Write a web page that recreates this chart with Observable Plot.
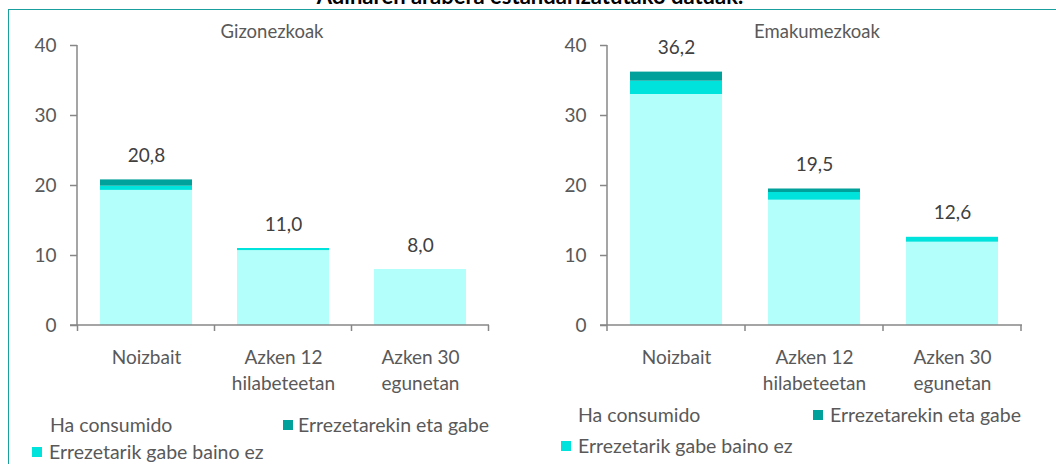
<!DOCTYPE html>
<html><head><meta charset="utf-8">
<script src="https://cdn.jsdelivr.net/npm/d3@7"></script>
<script src="https://cdn.jsdelivr.net/npm/@observablehq/plot@0.6"></script>
<style>
body{margin:0;background:#fff;font-family:Lato, sans-serif;}
#root{position:relative;width:1056px;height:464px;overflow:hidden;}
.frame{position:absolute;left:8px;top:9px;width:1100px;height:500px;border-left:1.5px solid #1a9f9f;border-top:1.5px solid #1a9f9f;}
.title{position:absolute;left:0;width:1060px;top:-15px;text-align:center;font-weight:bold;font-size:22px;line-height:22px;color:#000;white-space:nowrap;}
.sub{position:absolute;font-size:18.5px;color:#595959;transform:translateX(-50%);white-space:nowrap;line-height:18.5px;}
.chart{position:absolute;top:0;}
.leg{position:absolute;font-size:19.5px;color:#595959;white-space:nowrap;line-height:19.5px;}
.sw{position:absolute;width:10px;height:10px;}
</style>
</head><body>
<div id="root">
  <div class="frame"></div>
  <div class="title">Adinaren arabera estandarizatutako datuak.</div>
</div>
<script>
const categories = ["Noizbait", "Azken 12\nhilabeteetan", "Azken 30\negunetan"];
const series = ["Ha consumido", "Errezetarik gabe baino ez", "Errezetarekin eta gabe"];
const colors = ["#b3fffb", "#00e2dc", "#00a19a"];
const yTicks = [0, 10, 20, 30, 40];
const panelTitles = ["Gizonezkoak", "Emakumezkoak"];

const menLight = [19.3, 10.7, 8.0];
const menCyan = [0.6, 0.3, 0];
const menDark = [0.9, 0, 0];
const menTotal = [20.8, 11.0, 8.0];

const womenLight = [33.0, 17.9, 11.9];
const womenCyan = [1.9, 1.1, 0.7];
const womenDark = [1.3, 0.5, 0];
const womenTotal = [36.2, 19.5, 12.6];

const root = document.getElementById("root");
const fmt = v => v.toFixed(1).replace(".", ",");

function makeChart(light, cyan, dark, total, width, marginRight) {
  const rows = [];
  categories.forEach((c, i) => {
    rows.push({cat: c, series: series[0], value: light[i]});
    rows.push({cat: c, series: series[1], value: cyan[i]});
    rows.push({cat: c, series: series[2], value: dark[i]});
  });
  const labels = categories.map((c, i) => ({cat: c, total: total[i]}));
  const chart = Plot.plot({
    width, height: 400,
    marginLeft: 77, marginRight, marginTop: 45, marginBottom: 75,
    style: {fontFamily: "Lato, sans-serif", background: "transparent", overflow: "visible"},
    x: {domain: categories, paddingInner: 0.33, paddingOuter: 0.165, axis: null},
    y: {domain: [0, 40]},
    color: {domain: series, range: colors},
    marks: [
      Plot.barY(rows, {x: "cat", y: "value", fill: "series", order: series}),
      Plot.axisY({ticks: yTicks, tickSize: 7, tickPadding: 14, fontSize: 19, stroke: "#878787", strokeWidth: 1.5, fill: "#595959", label: null}),
      Plot.text(labels, {x: "cat", y: "total", text: d => fmt(d.total), dy: -24, fontSize: 19, fill: "#404040"}),
      Plot.text(categories, {x: d => d, text: d => d, frameAnchor: "bottom", lineAnchor: "top", dy: 20, fontSize: 19, lineHeight: 1.37, fill: "#595959"})
    ]
  });
  const sx = chart.scale("x"), sy = chart.scale("y");
  const svg = d3.select(chart);
  const g = svg.append("g").attr("stroke", "#878787").attr("stroke-width", 1.5).attr("fill", "none");
  const x0 = sx.range[0], x1 = sx.range[1];
  const yb = sy.apply(0), yt = sy.apply(40);
  g.append("line").attr("x1", x0).attr("x2", x0).attr("y1", yt).attr("y2", yb);
  g.append("line").attr("x1", x0 - 7).attr("x2", x1).attr("y1", yb).attr("y2", yb);
  const gap = (sx.step - sx.bandwidth) / 2;
  const bounds = categories.map(c => sx.apply(c) - gap);
  bounds.push(sx.apply(categories[categories.length - 1]) + sx.bandwidth + gap);
  bounds.forEach(b => g.append("line").attr("x1", b).attr("x2", b).attr("y1", yb).attr("y2", yb + 6));
  return chart;
}

function place(el, left) {
  el.classList.add("chart");
  el.style.left = left + "px";
  root.appendChild(el);
}
place(makeChart(menLight, menCyan, menDark, menTotal, 530, 41), 0);
place(makeChart(womenLight, womenCyan, womenDark, womenTotal, 526, 34), 530);

function addText(cls, text, left, top) {
  const d = document.createElement("div");
  d.className = cls; d.textContent = text;
  d.style.left = left + "px"; d.style.top = top + "px";
  root.appendChild(d);
  return d;
}
function addSwatch(color, left, top) {
  const d = document.createElement("div");
  d.className = "sw"; d.style.background = color;
  d.style.left = left + "px"; d.style.top = top + "px";
  root.appendChild(d);
}
addText("sub", panelTitles[0], 272, 22);
addText("sub", panelTitles[1], 817, 22);

// left legend
addText("leg", series[0], 50, 415);
addSwatch(colors[2], 283, 420);
addText("leg", series[2], 298, 415);
addSwatch(colors[1], 32, 447);
addText("leg", series[1], 49, 442);
// right legend
addText("leg", series[0], 578, 405);
addSwatch(colors[2], 813, 410);
addText("leg", series[2], 830, 405);
addSwatch(colors[1], 561, 441);
addText("leg", series[1], 578, 436);
</script>
</body></html>
